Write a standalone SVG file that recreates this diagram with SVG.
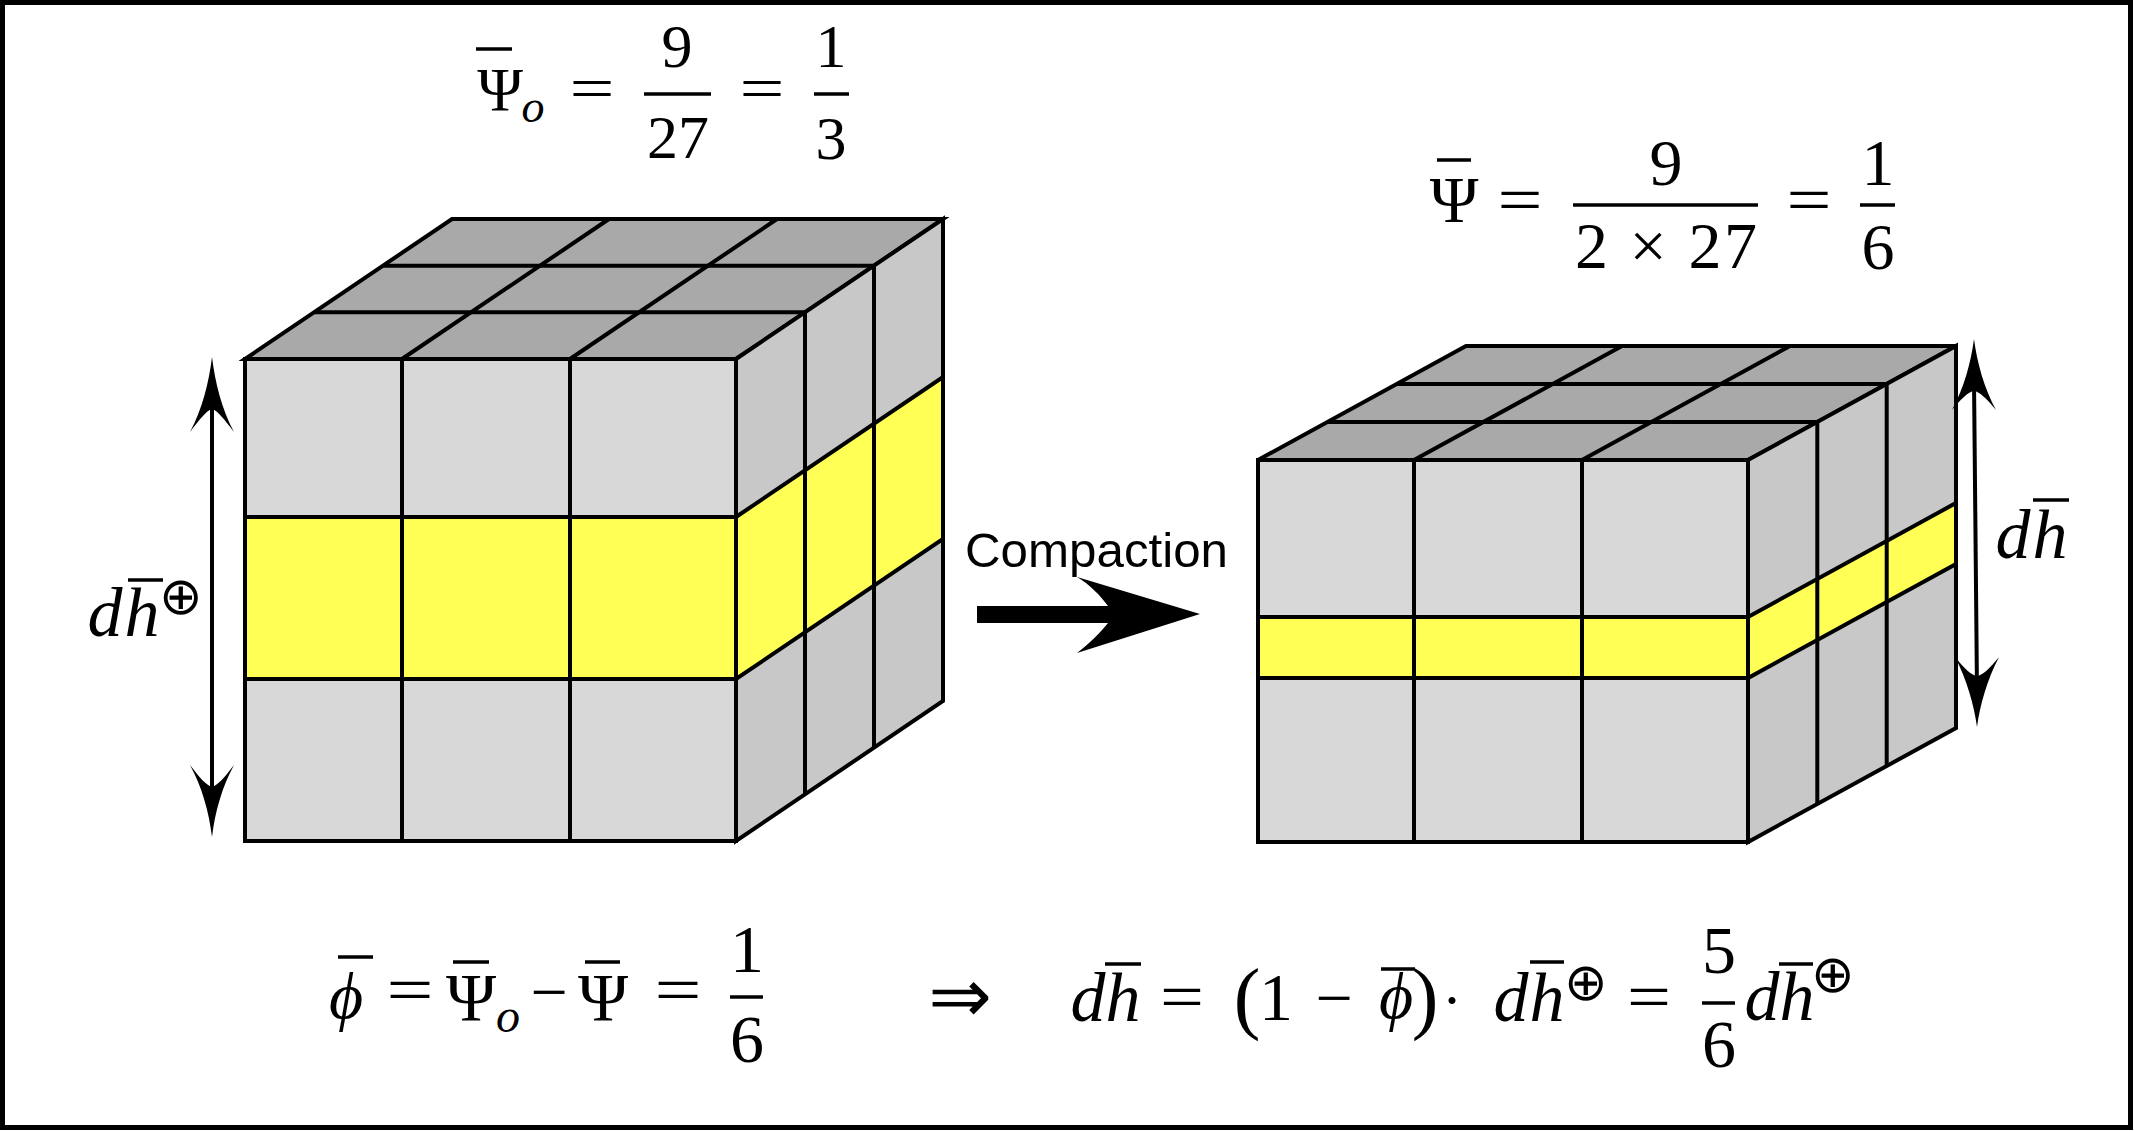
<svg xmlns="http://www.w3.org/2000/svg" width="2134" height="1131" viewBox="0 0 2134 1131">
<style>
.frame{fill:#fff;stroke:#000;stroke-width:5}
.top{fill:#a9a9a9;stroke:#000;stroke-width:4;stroke-linejoin:miter}
.front{fill:#d8d8d8;stroke:#000;stroke-width:4}
.side{fill:#c8c8c8;stroke:#000;stroke-width:4}
.yel{fill:#ffff55;stroke:#000;stroke-width:4}
.ln{stroke:#000;stroke-width:4;fill:none}
.bar{stroke:#000;stroke-width:3.5}
.ah{fill:#000;stroke:none}
.m{font-family:"Liberation Serif","DejaVu Serif",serif;fill:#000;text-anchor:middle}
.mi{font-family:"Liberation Serif","DejaVu Serif",serif;font-style:italic;fill:#000;text-anchor:middle}
.op{font-family:"DejaVu Sans",sans-serif;fill:#000;text-anchor:middle}
.oplus{font-family:"DejaVu Sans",sans-serif;font-weight:200;fill:#000;text-anchor:middle;dominant-baseline:central;font-size:52px}
.lbl{font-family:"Liberation Sans",Arial,sans-serif;fill:#000}
</style>
<rect class="frame" x="2.5" y="2.5" width="2128" height="1125"/>

<g id="cube-original">
  <polygon class="top" points="245,359 736,359 943,219 452,219"/>
  <line class="ln" x1="314" y1="312.3" x2="805" y2="312.3"/>
  <line class="ln" x1="383" y1="265.7" x2="874" y2="265.7"/>
  <line class="ln" x1="402" y1="359" x2="609" y2="219"/>
  <line class="ln" x1="570" y1="359" x2="777" y2="219"/>
  <polygon class="side" points="736,359 943,219 943,701 736,841"/>
  <polygon class="yel" points="736,517 943,377 943,539 736,679"/>
  <line class="ln" x1="805" y1="312.3" x2="805" y2="794.3"/>
  <line class="ln" x1="874" y1="265.7" x2="874" y2="747.7"/>
  <rect class="front" x="245" y="359" width="491" height="482"/>
  <rect class="yel" x="245" y="517" width="491" height="162"/>
  <line class="ln" x1="402" y1="359" x2="402" y2="841"/>
  <line class="ln" x1="570" y1="359" x2="570" y2="841"/>
</g>

<g id="cube-compacted">
  <polygon class="top" points="1258,460 1748,460 1956,346 1466,346"/>
  <line class="ln" x1="1327.3" y1="422" x2="1817.3" y2="422"/>
  <line class="ln" x1="1396.7" y1="384" x2="1886.7" y2="384"/>
  <line class="ln" x1="1414" y1="460" x2="1622" y2="346"/>
  <line class="ln" x1="1582" y1="460" x2="1790" y2="346"/>
  <polygon class="side" points="1748,460 1956,346 1956,728 1748,842"/>
  <polygon class="yel" points="1748,617 1956,503 1956,564 1748,678"/>
  <line class="ln" x1="1817.3" y1="422" x2="1817.3" y2="804"/>
  <line class="ln" x1="1886.7" y1="384" x2="1886.7" y2="766"/>
  <rect class="front" x="1258" y="460" width="490" height="382"/>
  <rect class="yel" x="1258" y="617" width="490" height="61"/>
  <line class="ln" x1="1414" y1="460" x2="1414" y2="842"/>
  <line class="ln" x1="1582" y1="460" x2="1582" y2="842"/>
</g>

<g id="connectors">
  <g id="height-arrow-left">
    <line class="ln" x1="212" y1="400" x2="212" y2="796"/>
    <path class="ah" d="M212,357 C215,382 222,410 234,432 C224,419 218,411 212,409 C206,411 200,419 190,432 C202,410 209,382 212,357 Z"/>
    <path class="ah" d="M212,837 C215,812 222,787 234,765 C224,778 218,785 212,787 C206,785 200,778 190,765 C202,787 209,812 212,837 Z"/>
  </g>
  <g id="height-arrow-right">
    <line class="ln" x1="1974" y1="380" x2="1977" y2="690"/>
    <path class="ah" d="M1974,339 C1977,362 1984,388 1996,410 C1986,398 1980,392 1974,391 C1968,392 1962,398 1952,410 C1964,388 1971,362 1974,339 Z"/>
    <path class="ah" d="M1977,727 C1980,705 1987,680 1999,657 C1989,669 1983,675 1977,676 C1971,675 1965,669 1955,657 C1967,680 1974,705 1977,727 Z"/>
  </g>
  <path id="compaction-arrow" class="ah" d="M977,606 L1108,606 C1100,595 1090,585 1077,577 L1200,614 L1077,653 C1090,643 1100,633 1108,623 L977,623 Z"/>
</g>

<g id="label-compaction">
  <text class="lbl" x="965" y="567" font-size="48" textLength="263" lengthAdjust="spacingAndGlyphs">Compaction</text>
</g>

<g id="formula-psi-o">
  <line class="bar" x1="476" y1="49" x2="512" y2="49"/>
  <text class="m" x="500" y="110" font-size="62">Ψ</text>
  <text class="mi" x="533" y="122" font-size="46">o</text>
  <text class="m" x="592" y="109" font-size="62" textLength="45" lengthAdjust="spacingAndGlyphs">=</text>
  <text class="m" x="677" y="67" font-size="62">9</text>
  <line class="bar" x1="644" y1="94" x2="711" y2="94"/>
  <text class="m" x="678" y="158" font-size="62">27</text>
  <text class="m" x="762" y="109" font-size="62" textLength="45" lengthAdjust="spacingAndGlyphs">=</text>
  <text class="m" x="831" y="67" font-size="62">1</text>
  <line class="bar" x1="814" y1="94" x2="849" y2="94"/>
  <text class="m" x="831" y="159" font-size="62">3</text>
</g>

<g id="formula-psi">
  <line class="bar" x1="1437" y1="160" x2="1471" y2="160"/>
  <text class="m" x="1454" y="222" font-size="66">Ψ</text>
  <text class="m" x="1520" y="222" font-size="66" textLength="45" lengthAdjust="spacingAndGlyphs">=</text>
  <text class="m" x="1666" y="185" font-size="66">9</text>
  <line class="bar" x1="1573" y1="205" x2="1758" y2="205"/>
  <text class="m" x="1666" y="268" font-size="66" textLength="182" lengthAdjust="spacing">2 × 27</text>
  <text class="m" x="1809" y="222" font-size="66" textLength="45" lengthAdjust="spacingAndGlyphs">=</text>
  <text class="m" x="1878" y="185" font-size="66">1</text>
  <line class="bar" x1="1860" y1="205" x2="1895" y2="205"/>
  <text class="m" x="1878" y="269" font-size="66">6</text>
</g>

<g id="label-dh-plus">
  <text class="mi" x="105" y="636" font-size="70">d</text>
  <line class="bar" x1="128" y1="580" x2="163" y2="580"/>
  <text class="mi" x="142" y="636" font-size="70">h</text>
  <text class="oplus" x="181" y="596">⊕</text>
</g>

<g id="label-dh">
  <text class="mi" x="2013" y="558" font-size="70">d</text>
  <line class="bar" x1="2033" y1="500" x2="2069" y2="500"/>
  <text class="mi" x="2050" y="558" font-size="70">h</text>
</g>

<g id="formula-phi">
  <line class="bar" x1="338" y1="957" x2="373" y2="957"/>
  <text class="mi" x="346" y="1018" font-size="66">ϕ</text>
  <text class="m" x="410" y="1012" font-size="66" textLength="47" lengthAdjust="spacingAndGlyphs">=</text>
  <line class="bar" x1="453" y1="962" x2="489" y2="962"/>
  <text class="m" x="471" y="1020" font-size="68">Ψ</text>
  <text class="mi" x="508" y="1032" font-size="48">o</text>
  <text class="m" x="549" y="1014" font-size="66">−</text>
  <line class="bar" x1="585" y1="962" x2="620" y2="962"/>
  <text class="m" x="603" y="1020" font-size="68">Ψ</text>
  <text class="m" x="678" y="1012" font-size="66" textLength="47" lengthAdjust="spacingAndGlyphs">=</text>
  <text class="m" x="747" y="972" font-size="68">1</text>
  <line class="bar" x1="730" y1="997" x2="763" y2="997"/>
  <text class="m" x="747" y="1062" font-size="68">6</text>
</g>

<g id="implies">
  <text class="op" x="960" y="1022" font-size="76">⇒</text>
</g>

<g id="formula-dh">
  <text class="mi" x="1088" y="1021" font-size="70">d</text>
  <line class="bar" x1="1105" y1="964" x2="1141" y2="964"/>
  <text class="mi" x="1123" y="1021" font-size="70">h</text>
  <text class="m" x="1182" y="1019" font-size="66" textLength="44" lengthAdjust="spacingAndGlyphs">=</text>
  <text class="m" x="1247" y="1024" font-size="80">(</text>
  <text class="m" x="1276" y="1020" font-size="68">1</text>
  <text class="m" x="1334" y="1020" font-size="66">−</text>
  <line class="bar" x1="1381" y1="969" x2="1415" y2="969"/>
  <text class="mi" x="1396" y="1018" font-size="66">ϕ</text>
  <text class="m" x="1425" y="1024" font-size="80">)</text>
  <text class="m" x="1452" y="1020" font-size="60">·</text>
  <text class="mi" x="1511" y="1021" font-size="70">d</text>
  <line class="bar" x1="1530" y1="962" x2="1564" y2="962"/>
  <text class="mi" x="1547" y="1021" font-size="70">h</text>
  <text class="oplus" x="1586" y="982">⊕</text>
  <text class="m" x="1649" y="1019" font-size="66" textLength="44" lengthAdjust="spacingAndGlyphs">=</text>
  <text class="m" x="1719" y="973" font-size="68">5</text>
  <line class="bar" x1="1702" y1="1003" x2="1735" y2="1003"/>
  <text class="m" x="1719" y="1067" font-size="68">6</text>
  <text class="mi" x="1762" y="1020" font-size="70">d</text>
  <line class="bar" x1="1779" y1="964" x2="1813" y2="964"/>
  <text class="mi" x="1797" y="1020" font-size="70">h</text>
  <text class="oplus" x="1833" y="974">⊕</text>
</g>
</svg>
